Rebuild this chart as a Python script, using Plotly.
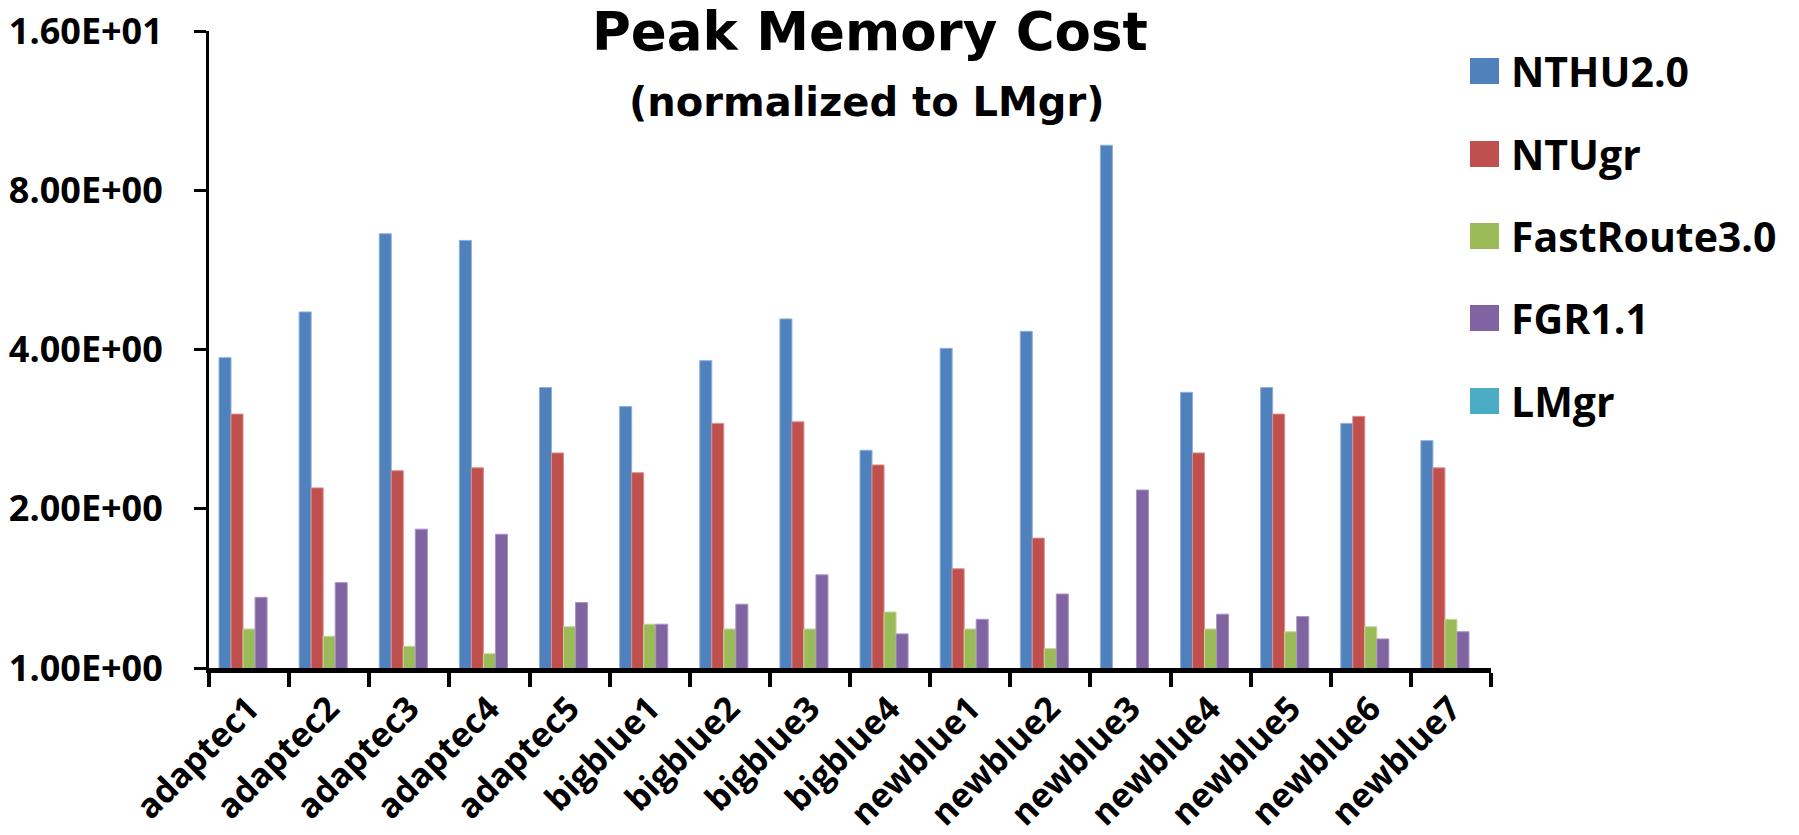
import plotly.graph_objects as go
import math

categories = ["adaptec1", "adaptec2", "adaptec3", "adaptec4", "adaptec5",
              "bigblue1", "bigblue2", "bigblue3", "bigblue4",
              "newblue1", "newblue2", "newblue3", "newblue4", "newblue5",
              "newblue6", "newblue7"]

nthu20 = [3.86, 4.71, 6.62, 6.43, 3.39, 3.12, 3.81, 4.57, 2.58,
          4.02, 4.33, 9.73, 3.32, 3.39, 2.90, 2.69]
ntugr = [3.02, 2.19, 2.36, 2.39, 2.55, 2.34, 2.90, 2.92, 2.42,
         1.54, 1.76, None, 2.55, 3.02, 2.99, 2.39]
fastroute30 = [1.185, 1.148, 1.099, 1.064, 1.197, 1.21, 1.185, 1.185, 1.276,
               1.185, 1.088, None, 1.185, 1.171, 1.197, 1.236]
fgr11 = [1.36, 1.45, 1.83, 1.79, 1.33, 1.21, 1.32, 1.50, 1.16,
         1.236, 1.38, 2.17, 1.264, 1.251, 1.135, 1.171]
lmgr = [1.0] * 16

series_names = ["NTHU2.0", "NTUgr", "FastRoute3.0", "FGR1.1", "LMgr"]
series_values = [nthu20, ntugr, fastroute30, fgr11, lmgr]
series_colors = ["#4F81BD", "#C0504D", "#9BBB59", "#8064A2", "#4BACC6"]
edge_colors = ["#8DB0DC", "#DA8F8D", "#C3D89A", "#A893C4", "#8DCBDC"]

ytick_vals = [1, 2, 4, 8, 16]
ytick_text = ["1.00E+00", "2.00E+00", "4.00E+00", "8.00E+00", "1.60E+01"]

title_text = "Peak Memory Cost"
subtitle_text = "(normalized to LMgr)"

W, H = 1799, 835
PX0, PX1, PY0, PY1 = 209, 1491, 31, 668  # plot area in window pixels


def px(x):
    return (x - PX0) / (PX1 - PX0)


def py(y):
    return (PY1 - y) / (PY1 - PY0)


TFONT = "DejaVu Sans"
FONT = "Open Sans"

fig = go.Figure()
for name, vals, col, edge in zip(series_names, series_values, series_colors, edge_colors):
    fig.add_trace(go.Bar(
        x=categories, y=vals, name=name,
        marker=dict(color=col, line=dict(color=edge, width=1 if name != "LMgr" else 0)),
        showlegend=False,
    ))

# custom legend (large square swatches)
leg_y = [71, 154, 236, 318, 401]
shapes = []
annotations = []
for name, col, yc in zip(series_names, series_colors, leg_y):
    shapes.append(dict(type="rect", xref="paper", yref="paper",
                       x0=px(1470), x1=px(1499), y0=py(yc + 13), y1=py(yc - 13),
                       fillcolor=col, line=dict(width=0)))
    annotations.append(dict(text="<b>%s</b>" % name, xref="paper", yref="paper",
                            x=px(1509), y=py(yc), xanchor="left", yanchor="middle",
                            showarrow=False, font=dict(family=FONT, size=41, color="black")))

annotations.append(dict(text="<b>%s</b>" % title_text, xref="paper", yref="paper",
                        x=px(870), y=py(31), xanchor="center", yanchor="middle",
                        showarrow=False, font=dict(family=TFONT, size=53, color="black")))
annotations.append(dict(text="<b>%s</b>" % subtitle_text, xref="paper", yref="paper",
                        x=px(867), y=py(102), xanchor="center", yanchor="middle",
                        showarrow=False, font=dict(family=TFONT, size=40, color="black")))

fig.update_layout(
    width=W, height=H,
    margin=dict(l=PX0, r=W - PX1, t=PY0, b=H - PY1, pad=0, autoexpand=False),
    paper_bgcolor="white", plot_bgcolor="white",
    barmode="group", bargap=0.25, bargroupgap=0.0,
    font=dict(family=FONT, color="black"),
    shapes=shapes, annotations=annotations,
    showlegend=False,
)

fig.update_xaxes(
    type="category", automargin=False,
    showline=True, linecolor="black", linewidth=5,
    ticks="outside", tickson="boundaries", ticklen=14, tickwidth=4, tickcolor="black",
    tickangle=-45,
    tickfont=dict(family=FONT, size=34, color="black"),
    tickvals=categories, ticktext=["<b>%s</b>" % c for c in categories],
    ticklabelstandoff=2, ticklabeloverflow="allow",
    showgrid=False, zeroline=False,
)

fig.update_yaxes(
    type="log", range=[0, math.log10(16)], automargin=False,
    tickvals=ytick_vals, ticktext=["<b>%s</b>" % t for t in ytick_text],
    showline=True, linecolor="black", linewidth=3,
    ticks="outside", ticklen=12, tickwidth=2.5, tickcolor="black",
    ticklabelstandoff=24, ticklabeloverflow="allow",
    tickfont=dict(family=FONT, size=36, color="black"),
    showgrid=False, zeroline=False,
)

fig.write_html("out.html", config={"displayModeBar": False},
               post_script="document.body.style.margin='0px';")
